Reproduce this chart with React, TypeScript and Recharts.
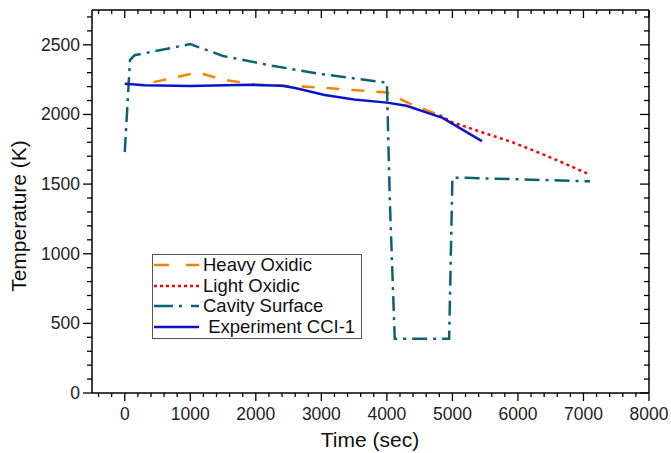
import { LineChart, Line, XAxis, YAxis, Legend, Label } from 'recharts';

// time (s) vs temperature (K)
const heavyOxidic = [
  { t: 440, T: 2232 },
  { t: 1000, T: 2290 },
  { t: 1200, T: 2290 },
  { t: 1500, T: 2250 },
  { t: 2000, T: 2215 },
  { t: 2500, T: 2205 },
  { t: 3000, T: 2192 },
  { t: 3500, T: 2175 },
  { t: 4000, T: 2158 },
  { t: 4350, T: 2078 },
  { t: 4800, T: 1995 },
];

const lightOxidic = [
  { t: 4800, T: 1995 },
  { t: 5000, T: 1944 },
  { t: 5420, T: 1877 },
  { t: 5920, T: 1800 },
  { t: 6430, T: 1705 },
  { t: 7100, T: 1568 },
];

const cavitySurface = [
  { t: 0, T: 1730 },
  { t: 80, T: 2390 },
  { t: 150, T: 2425 },
  { t: 1000, T: 2505 },
  { t: 1500, T: 2420 },
  { t: 2250, T: 2350 },
  { t: 3000, T: 2290 },
  { t: 4000, T: 2228 },
  { t: 4045, T: 1380 },
  { t: 4120, T: 390 },
  { t: 4950, T: 390 },
  { t: 5000, T: 1545 },
  { t: 5200, T: 1545 },
  { t: 7100, T: 1520 },
];

const experimentCCI1 = [
  { t: 0, T: 2220 },
  { t: 300, T: 2210 },
  { t: 1000, T: 2205 },
  { t: 1900, T: 2213 },
  { t: 2400, T: 2206 },
  { t: 2600, T: 2190 },
  { t: 3050, T: 2140 },
  { t: 3500, T: 2108 },
  { t: 4000, T: 2085 },
  { t: 4300, T: 2062 },
  { t: 4850, T: 1975 },
  { t: 5450, T: 1808 },
];

const xMajor = [0, 1000, 2000, 3000, 4000, 5000, 6000, 7000, 8000];
const yMajor = [0, 500, 1000, 1500, 2000, 2500];
const X_MINOR_STEP = 200;
const Y_MINOR_STEP = 100;
const xDomain = [-500, 8000];
const yDomain = [0, 2750];

const xTicks: number[] = [];
for (let v = -400; v <= 8000; v += X_MINOR_STEP) xTicks.push(v);
const yTicks: number[] = [];
for (let v = 0; v <= 2700; v += Y_MINOR_STEP) yTicks.push(v);

const ORANGE = '#FF8000';
const RED = '#FF0000';
const TEAL = '#0A6272';
const BLUE = '#0A14C8';
const FONT = '"Liberation Sans", Arial, sans-serif';

const legendItems = [
  { name: 'Heavy Oxidic', color: ORANGE, dash: '15 17' },
  { name: 'Light Oxidic', color: RED, dash: '3 3' },
  { name: 'Cavity Surface', color: TEAL, dash: '19 6 3 9' },
  { name: ' Experiment CCI-1', color: BLUE, dash: undefined },
];

const BottomTick = ({ x, y, payload }: any) => {
  const major = xMajor.includes(payload.value);
  return (
    <g>
      <line x1={x} y1={y} x2={x} y2={y + (major ? 8 : 4)} stroke="#000" strokeWidth={1.3} />
      {major && (
        <text x={x} y={y + 27} textAnchor="middle" fontSize={17.5} fill="#222" fontFamily={FONT}>
          {payload.value}
        </text>
      )}
    </g>
  );
};

const TopTick = ({ x, y, payload }: any) => {
  const major = xMajor.includes(payload.value);
  return <line x1={x} y1={y} x2={x} y2={y + (major ? 8 : 4)} stroke="#000" strokeWidth={1.3} />;
};

const LeftTick = ({ x, y, payload }: any) => {
  const major = yMajor.includes(payload.value);
  return (
    <g>
      <line x1={x} y1={y} x2={x - (major ? 9 : 5)} y2={y} stroke="#000" strokeWidth={1.3} />
      {major && (
        <text x={x - 12} y={y + 6} textAnchor="end" fontSize={17.5} fill="#222" fontFamily={FONT}>
          {payload.value}
        </text>
      )}
    </g>
  );
};

const RightTick = ({ x, y, payload }: any) => {
  const major = yMajor.includes(payload.value);
  return <line x1={x} y1={y} x2={x - (major ? 9 : 5)} y2={y} stroke="#000" strokeWidth={1.3} />;
};

const LegendBox = () => (
  <div
    style={{
      border: '1px solid #555',
      background: '#fff',
      width: 208,
      fontFamily: FONT,
      fontSize: 18.5,
      color: '#111',
      paddingBottom: 1,
    }}
  >
    {legendItems.map((it) => (
      <div key={it.name} style={{ display: 'flex', alignItems: 'center', height: 20.5 }}>
        <svg width={50} height={10} style={{ flex: 'none' }}>
          <line x1={1} y1={5} x2={46} y2={5} stroke={it.color} strokeWidth={2.5} strokeDasharray={it.dash} />
        </svg>
        <span style={{ whiteSpace: 'pre' }}>{it.name}</span>
      </div>
    ))}
  </div>
);

export default function App() {
  return (
    <div style={{ position: 'absolute', left: 0, top: 0, background: '#fff' }}>
      <LineChart width={671} height={453} margin={{ top: 9, right: 21, left: 0, bottom: 0 }}>
        <XAxis
          xAxisId="b"
          type="number"
          dataKey="t"
          domain={xDomain}
          ticks={xTicks}
          allowDataOverflow
          height={60}
          tickSize={0}
          tickMargin={0}
          tickLine={false}
          tick={<BottomTick />}
          interval={0}
          axisLine={{ stroke: '#000', strokeWidth: 1.5 }}
        >
          <Label
            content={() => (
              <text x={370} y={447} textAnchor="middle" fontSize={21} fill="#111" fontFamily={FONT}>
                Time (sec)
              </text>
            )}
          />
        </XAxis>
        <XAxis
          xAxisId="t"
          orientation="top"
          type="number"
          dataKey="t"
          domain={xDomain}
          ticks={xTicks}
          allowDataOverflow
          height={1}
          tickSize={0}
          tickMargin={0}
          tickLine={false}
          tick={<TopTick />}
          interval={0}
          axisLine={{ stroke: '#000', strokeWidth: 1.5 }}
        />
        <YAxis
          yAxisId="l"
          type="number"
          domain={yDomain}
          ticks={yTicks}
          allowDataOverflow
          width={92}
          tickSize={0}
          tickMargin={0}
          tickLine={false}
          tick={<LeftTick />}
          interval={0}
          axisLine={{ stroke: '#000', strokeWidth: 1.5 }}
        >
          <Label
            content={() => (
              <text
                x={26}
                y={216}
                transform="rotate(-90 26 216)"
                textAnchor="middle"
                fontSize={21}
                fill="#111"
                fontFamily={FONT}
              >
                Temperature (K)
              </text>
            )}
          />
        </YAxis>
        <YAxis
          yAxisId="r"
          orientation="right"
          type="number"
          domain={yDomain}
          ticks={yTicks}
          allowDataOverflow
          width={1}
          tickSize={0}
          tickMargin={0}
          tickLine={false}
          tick={<RightTick />}
          interval={0}
          axisLine={{ stroke: '#000', strokeWidth: 1.5 }}
        />
        <Legend
          layout="vertical"
          align="center"
          verticalAlign="middle"
          wrapperStyle={{ left: 152, top: 254, width: 210 }}
          content={() => <LegendBox />}
        />
        {/* invisible series so the top / right frame axes get drawn */}
        <Line
          xAxisId="t"
          yAxisId="r"
          data={experimentCCI1}
          dataKey="T"
          stroke="none"
          dot={false}
          activeDot={false}
          legendType="none"
          isAnimationActive={false}
        />
        <Line
          xAxisId="b"
          yAxisId="l"
          data={heavyOxidic}
          dataKey="T"
          name="Heavy Oxidic"
          type="linear"
          stroke={ORANGE}
          strokeWidth={2.5}
          strokeDasharray="13 12"
          dot={false}
          isAnimationActive={false}
        />
        <Line
          xAxisId="b"
          yAxisId="l"
          data={lightOxidic}
          dataKey="T"
          name="Light Oxidic"
          type="linear"
          stroke={RED}
          strokeWidth={2.5}
          strokeDasharray="3 3.5"
          dot={false}
          isAnimationActive={false}
        />
        <Line
          xAxisId="b"
          yAxisId="l"
          data={cavitySurface}
          dataKey="T"
          name="Cavity Surface"
          type="linear"
          stroke={TEAL}
          strokeWidth={2.5}
          strokeDasharray="15 6 3 6"
          dot={false}
          isAnimationActive={false}
        />
        <Line
          xAxisId="b"
          yAxisId="l"
          data={experimentCCI1}
          dataKey="T"
          name="Experiment CCI-1"
          type="linear"
          stroke={BLUE}
          strokeWidth={2.5}
          dot={false}
          isAnimationActive={false}
        />
      </LineChart>
    </div>
  );
}
